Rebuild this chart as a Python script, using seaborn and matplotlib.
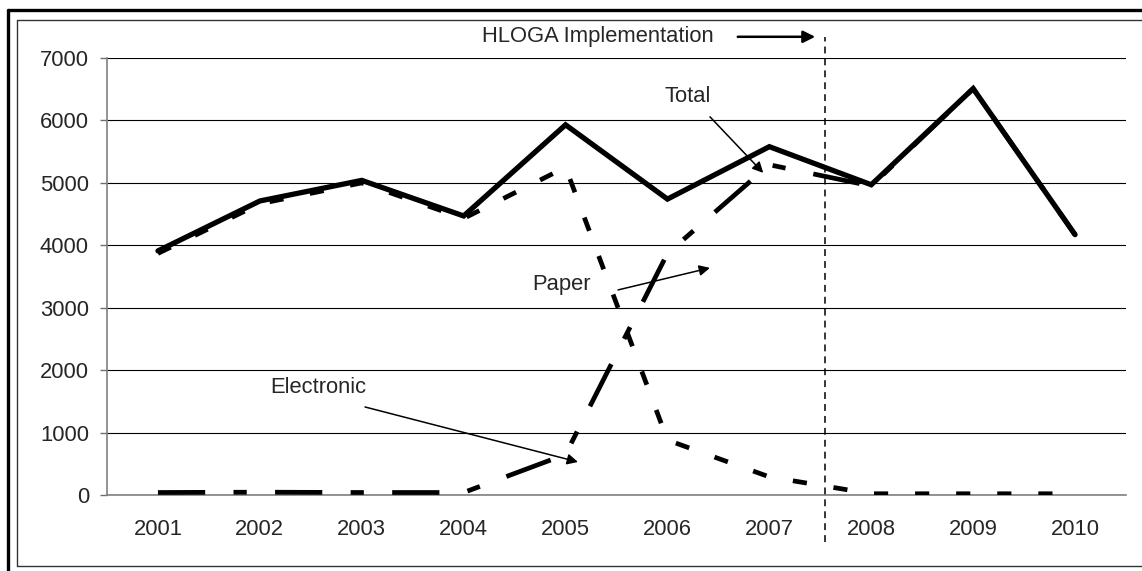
"""
plot.py - paper vs electronic filings, 2001-2010, with the HLOGA marker.
"""

import matplotlib
matplotlib.use("Agg")
import matplotlib.pyplot as plt
from matplotlib.lines import Line2D
import seaborn as sns


years = ["2001", "2002", "2003", "2004", "2005", "2006", "2007", "2008", "2009", "2010"]
total = [3910, 4710, 5040, 4470, 5930, 4740, 5580, 4970, 6510, 4170]
electronic = [40, 45, 40, 40, 650, 3870, 5290, 4950, 6510, 4170]
paper = [3870, 4665, 5000, 4430, 5250, 880, 290, 20, 20, 20]
y_ticks = [0, 1000, 2000, 3000, 4000, 5000, 6000, 7000]

HLOGA_X = 6.55  # between 2007 and 2008
FS = 15.8

sns.set_style("white")
plt.rcParams["font.family"] = ["Liberation Sans", "DejaVu Sans"]

fig = plt.figure(figsize=(11.42, 5.71), dpi=100)
ax = fig.add_axes([0.0937, 0.1331, 0.8923, 0.7653])

# paper first, total last so it sits on top
sns.lineplot(x=years, y=paper, ax=ax, color="black", linewidth=3.4,
             linestyle=(0, (3.0, 5.7)), dash_capstyle="butt", zorder=3)
sns.lineplot(x=years, y=electronic, ax=ax, color="black", linewidth=3.4,
             linestyle=(0, (10, 6, 2.8, 6)), dash_capstyle="butt", zorder=4)
sns.lineplot(x=years, y=total, ax=ax, color="black", linewidth=3.8,
             solid_capstyle="round", solid_joinstyle="miter", zorder=5)

ax.set_xlim(-0.5, len(years) - 0.5)
ax.set_ylim(0, 7000)
ax.set_yticks(y_ticks)
ax.set_yticklabels([str(v) for v in y_ticks])
ax.set_xticks(range(len(years)))
ax.set_xticklabels(years)
ax.set_xticks([i - 0.5 for i in range(len(years) + 1)], minor=True)
ax.set_xlabel("")
ax.set_ylabel("")

ax.tick_params(axis="x", which="major", length=0, pad=17, labelsize=FS)
ax.tick_params(axis="x", which="minor", length=5, width=1, color="#707070",
               direction="out")
ax.tick_params(axis="y", length=5, width=1, color="#707070", pad=8,
               labelsize=FS, left=True)

ax.grid(axis="y", color="black", linewidth=0.8)
ax.grid(axis="x", visible=False)
ax.set_axisbelow(True)
for side in ["top", "right"]:
    ax.spines[side].set_visible(False)
for side in ["left", "bottom"]:
    ax.spines[side].set_color("#808080")
    ax.spines[side].set_linewidth(1.2)

# HLOGA marker line
ax.plot([HLOGA_X, HLOGA_X], [-750, 7340], color="black", linewidth=1.1,
        linestyle=(0, (4.5, 3.3)), clip_on=False, zorder=6)
ax.text(3.18, 7340, "HLOGA Implementation", fontsize=FS, ha="left",
        va="center")
ax.annotate("", xy=(6.45, 7340), xytext=(5.69, 7340),
            arrowprops=dict(arrowstyle="-|>", color="black", lw=1.8,
                            mutation_scale=18, shrinkA=0, shrinkB=0),
            annotation_clip=False)

labels = [
    ("Total", (5.20, 6378), (5.417, 6058), (5.94, 5160)),
    ("Paper", (3.965, 3365), (4.515, 3285), (5.417, 3638)),
    ("Electronic", (1.571, 1715), (2.032, 1410), (4.122, 529)),
]
for text, pos, start, end in labels:
    ax.text(pos[0], pos[1], text, fontsize=FS, ha="center", va="center")
    ax.annotate("", xy=end, xytext=start,
                arrowprops=dict(arrowstyle="-|>", color="black", lw=1.1,
                                mutation_scale=16, shrinkA=0, shrinkB=0),
                zorder=7)

# double frame around the chart
W, H = 1142, 571
def frame_line(xs, ys, lw, color):
    fig.add_artist(Line2D([x / W for x in xs], [1 - y / H for y in ys],
                          color=color, linewidth=lw,
                          transform=fig.transFigure))

frame_line([8, W], [10, 10], 2.4, "black")
frame_line([8, 8], [10, H], 2.4, "black")
frame_line([17, W], [20, 20], 1.0, "#333333")
frame_line([17, 17], [20, 566], 1.0, "#333333")
frame_line([17, W], [566, 566], 1.0, "#333333")

fig.savefig("out.png", dpi=100)
